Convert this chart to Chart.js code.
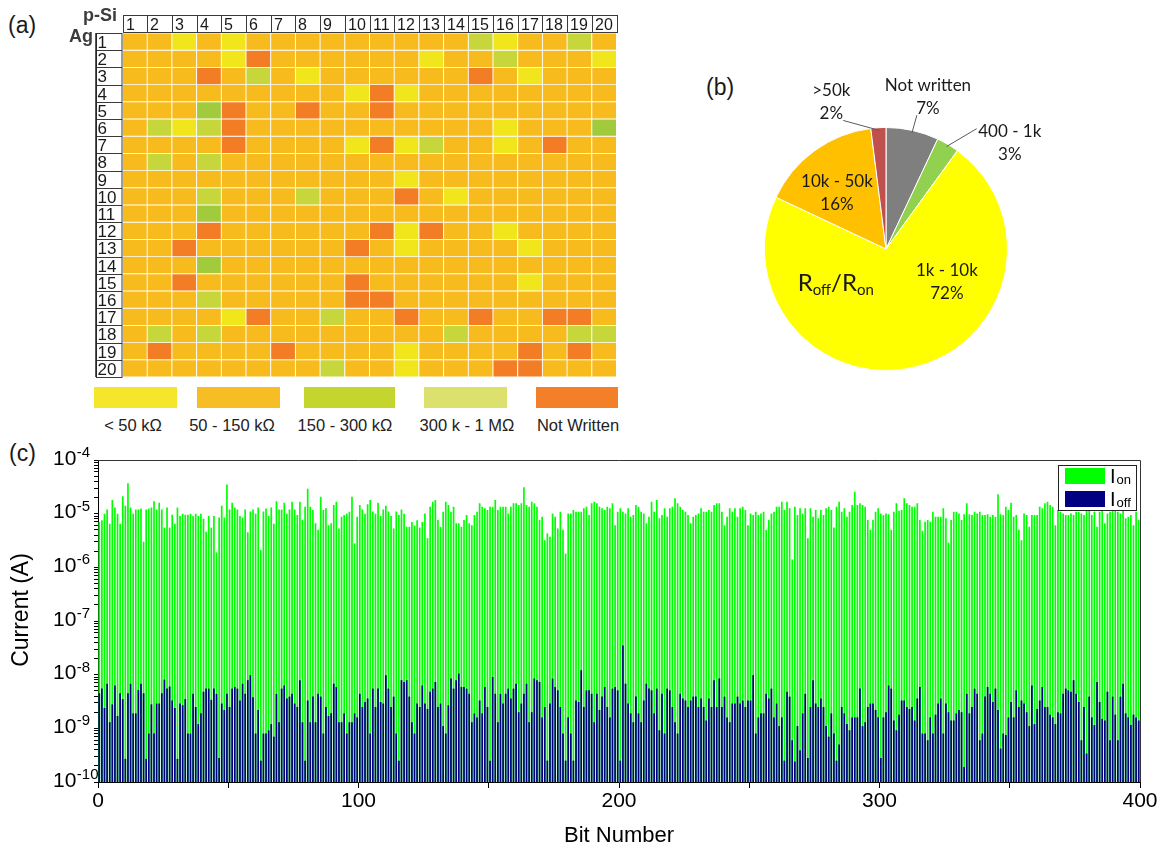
<!DOCTYPE html>
<html>
<head>
<meta charset="utf-8">
<title>Crossbar resistance map, Roff/Ron split and read currents</title>
<script src="https://cdn.jsdelivr.net/npm/chart.js@4.4.1/dist/chart.umd.min.js"></script>
<style>
  html, body { margin: 0; background: #fff; }
  #figure { position: relative; width: 1163px; height: 850px; font-family: "Liberation Sans", Arial, sans-serif; color: #1a1a1a; }
  .panel { position: absolute; }
  .tag { position: absolute; font-size: 23px; line-height: 1; }
  .swatch { position: absolute; top: 387px; height: 21px; }
  .swatch-label { position: absolute; top: 417px; font-size: 16.5px; line-height: 1; white-space: nowrap; transform: translateX(-50%); color: #222; }
</style>
</head>
<body>
<div id="figure">
  <div class="tag" style="left:8px; top:14px">(a)</div>
  <div class="panel" style="left:0; top:0; width:640px; height:385px"><canvas id="arrayMap"></canvas></div>
  <div id="mapLegend"></div>
  <div class="tag" style="left:706px; top:76px">(b)</div>
  <div class="panel" style="left:700px; top:60px; width:370px; height:360px"><canvas id="ratioPie"></canvas></div>
  <div class="tag" style="left:9px; top:442px">(c)</div>
  <div class="panel" style="left:0; top:440px; width:1163px; height:410px"><canvas id="readCurrents"></canvas></div>
</div>
<script>
// ---- (a) 20 x 20 array, one string per Ag line, one letter per p-Si line
// Y < 50k, O 50-150k, G / M greens, R not written
const pSiLabels = ['1','2','3','4','5','6','7','8','9','10','11','12','13','14','15','16','17','18','19','20'];
const agLabels = ['1','2','3','4','5','6','7','8','9','10','11','12','13','14','15','16','17','18','19','20'];
const cellStates = [
  'OOYOYOOOOOOOOOGYOOGO',
  'OOOOYROOOOOOYOOGOOOY',
  'OOOROGOYOOOOOOROYOOO',
  'OOOOOOOOOYRYOOOOOOOO',
  'OOOMROOROOROOOOOOOOO',
  'OGYGROOOOOOOOOOYOOOM',
  'OOOOROOOOYRYGOOYOROO',
  'OGOGOOOOOOOOOOOOOOOO',
  'OOOOOOOOOOOYOOOOOOOO',
  'OOOGOOOGOOOROYOOOOOO',
  'OOOMOOOOOOOOOOOOOOOO',
  'OOOROOOOOORYROOYOOOO',
  'OOROOOOOOROYOOOOYOOO',
  'OOOMOOOOOOOOOOOOOOOO',
  'OOROOOOOOROOOOOOYOOO',
  'OOOGOOOOORROOOOOOOOO',
  'OOOOYROOGOOROOROORRO',
  'OGOGOOOOOOOOOGOOOOGG',
  'OROOOOROOOOYOOOORORO',
  'OOOOOOOOGOOYOOORROOO'
];
const stateColors = { Y: '#f1e51c', O: '#f8bb1e', G: '#c6d63b', M: '#a1cb3c', R: '#f37d24' };

const mapLegendLabels = ['< 50 k\u03a9', '50 - 150 k\u03a9', '150 - 300 k\u03a9', '300 k - 1 M\u03a9', 'Not Written'];
const mapLegendColors = ['#f5e62b', '#f7bd24', '#c4d52e', '#dce06d', '#f47f29'];

// ---- (b) Roff/Ron distribution (%)
const pieLabels = ['Not written', '400 - 1k', '1k - 10k', '10k - 50k', '>50k'];
const pieShares = [7, 3, 72, 16, 2];
const pieColors = ['#7f7f7f', '#92d050', '#ffff00', '#ffc000', '#c0504d'];

// ---- (c) read currents per bit
const ionMicroamps = [
  7, 7.5, 10, 12, 6.5, 18, 13, 10, 6.5, 21, 14, 37, 13, 10, 12, 12, 12.5, 3, 12, 12.5,
  13, 17, 12, 16, 12, 5.5, 13, 5.5, 9.5, 6.5, 13, 9, 10, 9.5, 9.5, 10, 9, 10, 9, 10,
  8, 4.6, 9, 5.5, 9, 1.9, 8.5, 14, 8.5, 35, 12, 16, 13, 12, 9, 8.5, 12, 4.5, 11, 12,
  10, 13, 2.1, 11, 12.5, 9, 13, 6.5, 17, 12, 12, 16, 10, 12, 16.7, 12, 9.4, 16.7, 7.6, 13.5,
  29, 13.5, 11.7, 6.6, 5, 20.7, 11.7, 12.6, 6.1, 6.6, 14.5, 16.7, 5.3, 8.8, 9.4, 10.1, 10.9, 20.7, 2.8, 8.8,
  14.5, 12, 10, 15, 18, 11, 10, 16, 9, 12, 14, 11, 9, 5.3, 11, 9.4, 12, 10, 5.7, 5.7,
  7, 6, 7.5, 5.5, 7, 10.1, 3.5, 13.5, 16.7, 18, 7.6, 5.7, 10.9, 16.7, 14.5, 10.9, 13.5, 6.6, 6.6, 5.7,
  7.6, 9.4, 6.6, 6.1, 9.4, 10.9, 15.6, 13.5, 12.6, 11.7, 13.5, 13.5, 18, 11.7, 13.5, 13.5, 13.5, 10.1, 13.5, 15.6,
  15.6, 14.5, 15.6, 31, 14.5, 13.5, 16.7, 15.6, 13.5, 7.6, 8.8, 3.2, 4.3, 3.7, 10.1, 8.8, 5.3, 10.9, 5, 1.8,
  10.1, 10.1, 11.7, 10.9, 10.9, 10.9, 12.6, 13.5, 9.4, 15.6, 16.7, 15.6, 13.5, 12.6, 11.7, 13.5, 12.6, 15.6, 6.1, 10.9,
  12.6, 10.9, 10.1, 12.6, 8.8, 9.4, 14.5, 13.5, 10.9, 10.1, 6.6, 8.8, 16.7, 10.9, 18, 8.2, 9.4, 12.6, 8.8, 12.6,
  13.5, 19.3, 15.6, 13.5, 11.7, 10.9, 9.4, 6.6, 8.8, 9.4, 10.1, 12.6, 10.9, 10.9, 11.7, 10.9, 14.5, 15.6, 15.6, 10.9,
  6.1, 8.8, 12.6, 10.9, 12.6, 8.8, 12.6, 13.5, 11.7, 6.1, 10.1, 9.4, 10.9, 9.4, 10.1, 10.9, 5, 7.6, 10.1, 10.9,
  13.5, 13.5, 16.7, 11.7, 16.7, 12.6, 1.4, 13.5, 9.4, 12.6, 10.1, 12.6, 3.5, 12.6, 8.8, 11.7, 8.2, 11.7, 9.4, 12.6,
  13.5, 11.7, 5.5, 13.5, 16.7, 10.9, 12.6, 8.8, 10.9, 14.5, 25.7, 14.5, 15.6, 14.5, 13.5, 7.6, 5, 7.6, 10.9, 12.6,
  10.1, 9.4, 10.1, 9.8, 5, 10.9, 15.6, 11.3, 11.7, 19.3, 15.6, 14.5, 13.5, 13.5, 15.6, 7.6, 4.8, 7.1, 7.6, 7.1,
  10.9, 8.8, 8.8, 8.8, 12.6, 8.2, 2.9, 7.6, 10.9, 10.9, 10.1, 7.6, 9.8, 15.6, 9.8, 9.4, 10.9, 10.1, 10.9, 9.4,
  9.4, 9.8, 8.8, 9.4, 8.8, 23, 9.8, 9.4, 13.5, 11.7, 16, 8.8, 9.4, 5, 3.2, 10.1, 9.4, 5.7, 9.4, 9.4,
  9.4, 13.5, 12.6, 15.6, 16.7, 14.5, 13.5, 6.1, 11.7, 10.9, 10.1, 9.4, 9.4, 10.1, 9.4, 10.9, 10.9, 10.1, 9.4, 11.7,
  12.6, 9.4, 10.9, 5.7, 10.9, 13.5, 6.6, 10.1, 10.9, 11.7, 11.7, 10.9, 10.1, 13.5, 8.2, 8.8, 9.4, 6.1, 10.9, 7.6
];
const ioffNanoamps = [
  4.5, 5.5, 2.4, 6.8, 1.3, 2.8, 6.3, 1.7, 4.5, 3.5, 0.27, 4.5, 6.8, 1.9, 1.9, 5.2, 6.8, 4.5, 0.27, 0.8,
  2.8, 0.8, 2.9, 2.9, 4.5, 8.1, 5.5, 6, 3.3, 2.4, 0.27, 2.9, 2.7, 3.5, 0.8, 0.8, 4.4, 2.5, 1.2, 1.9,
  4.8, 5.5, 5.5, 3.4, 5.5, 4.4, 0.28, 2.9, 2.2, 4.4, 2.5, 5.5, 5.9, 5.5, 3.3, 6.8, 4.4, 7.9, 9.8, 3.8,
  0.8, 2.2, 0.25, 0.8, 0.8, 0.92, 1.2, 0.7, 4.4, 1.3, 5.5, 6.3, 3.6, 3.9, 4.4, 2.9, 2.5, 7.9, 1.3, 0.25,
  3.3, 1.3, 3.9, 1.3, 4.4, 3.9, 0.8, 2.5, 1.7, 1.9, 6.8, 5.9, 1.3, 1.3, 1.9, 0.8, 1.3, 1.3, 1.9, 1.6,
  4.4, 2.5, 3.1, 3.6, 0.8, 5.5, 2.5, 5.5, 3.1, 2.9, 9.8, 5.5, 2.5, 3.9, 0.8, 0.25, 7.9, 7.3, 7.9, 3.9,
  1.3, 0.8, 2.9, 2.5, 6.3, 2.9, 2.3, 4.8, 5.5, 7.3, 2.5, 2.9, 1.1, 0.8, 2.7, 8.5, 5.5, 7.9, 10.5, 5.9,
  5.9, 5.5, 4.4, 1.3, 1.9, 1.6, 3.3, 1.9, 5.9, 2.5, 0.25, 9.1, 4.4, 1.3, 4.4, 2.9, 4.4, 5.5, 3.6, 5.5,
  6.8, 2.0, 2.9, 4.4, 6.8, 1.3, 2.0, 8.5, 7.9, 7.3, 1.6, 2.5, 0.25, 2.9, 8.5, 5.9, 5.1, 2.5, 0.8, 0.25,
  1.6, 0.8, 0.25, 3.3, 3.1, 12.1, 2.5, 5.1, 5.1, 4.4, 1.3, 4.4, 2.2, 3.9, 5.9, 2.5, 1.6, 5.5, 5.9, 5.1,
  0.25, 35, 6.8, 2.9, 1.9, 1.3, 3.9, 1.9, 1.3, 3.3, 6.8, 5.5, 5.1, 1.9, 5.5, 0.92, 4.4, 0.8, 5.5, 5.1,
  2.5, 1.3, 0.8, 4.4, 3.6, 3.3, 2.5, 3.3, 3.9, 3.9, 2.5, 3.6, 2.5, 1.4, 3.6, 2.5, 7.9, 2.5, 8.5, 2.5,
  3.9, 1.6, 1.3, 2.9, 2.9, 3.9, 2.9, 3.3, 2.5, 3.3, 3.3, 9.8, 0.8, 1.6, 1.9, 1.9, 4.4, 3.6, 5.5, 1.6,
  2.9, 1.1, 1.6, 0.25, 4.8, 3.9, 0.6, 0.24, 1.1, 0.39, 1.9, 4.4, 0.28, 2.5, 7.9, 2.9, 2.5, 3.6, 2.5, 1.1,
  0.7, 1.9, 0.8, 0.25, 0.5, 2.5, 1.9, 1.2, 0.92, 1.6, 1.6, 1.6, 5.5, 1.1, 1.3, 2.5, 2.9, 2.9, 2.2, 1.6,
  0.28, 1.6, 2.0, 6.3, 5.5, 1.4, 0.92, 1.8, 3.3, 3.3, 2.5, 2.3, 2.5, 1.4, 3.6, 5.9, 0.8, 0.8, 0.6, 1.6,
  0.8, 1.8, 2.9, 3.6, 0.8, 2.9, 2.0, 1.4, 1.4, 1.9, 2.2, 2.0, 0.19, 4.4, 1.9, 2.5, 5.5, 4.4, 0.6, 0.8,
  3.9, 5.9, 4.4, 3.1, 5.5, 2.2, 0.42, 0.8, 0.75, 1.6, 3.1, 1.6, 5.1, 2.5, 3.3, 2.9, 2.0, 1.1, 6.3, 1.2,
  2.3, 3.3, 5.9, 2.5, 2.5, 1.8, 1.6, 1.2, 2.0, 1.9, 4.4, 5.5, 5.1, 4.8, 7.9, 4.4, 3.1, 0.6, 2.5, 0.34,
  3.9, 1.6, 1.15, 7.3, 3.1, 1.5, 1.4, 4.8, 0.6, 3.9, 1.8, 0.6, 3.9, 6.8, 1.9, 1.6, 1.15, 1.8, 1.6, 1.4
];
const decadeExponents = [-10, -9, -8, -7, -6, -5, -4];
const bitTicks = [0, 100, 200, 300, 400];
const seriesSubscripts = ['on', 'off'];
const seriesColors = ['#00ff00', '#000080'];

const SANS = '"Liberation Sans", Arial, sans-serif';
const PIE_FONT = 'Lato, "Open Sans", sans-serif';
Chart.defaults.font.family = SANS;
Chart.defaults.color = '#000';

// legend strip under the map
const mapLegendLeft = [94, 197, 304, 424, 536];
const mapLegendWidth = [83, 83, 91, 83, 82];
const mapLegendTextX = [133, 232, 345, 467, 578];
const legendHost = document.getElementById('mapLegend');
mapLegendLabels.forEach((text, i) => {
  const sw = document.createElement('div');
  sw.className = 'swatch';
  sw.style.left = mapLegendLeft[i] + 'px';
  sw.style.width = mapLegendWidth[i] + 'px';
  sw.style.background = mapLegendColors[i];
  legendHost.appendChild(sw);
  const lab = document.createElement('div');
  lab.className = 'swatch-label';
  lab.style.left = mapLegendTextX[i] + 'px';
  lab.textContent = text;
  legendHost.appendChild(lab);
});

// header boxes (p-Si lines) and row boxes (Ag lines) around the map
const mapFrame = {
  id: 'mapFrame',
  afterDraw(chart) {
    const { ctx, chartArea: a, scales: { x, y } } = chart;
    const cw = (a.right - a.left) / pSiLabels.length;
    ctx.save();
    ctx.lineWidth = 1;
    ctx.strokeStyle = '#3a3a3a';
    ctx.textBaseline = 'middle';
    ctx.textAlign = 'left';
    ctx.font = '16px ' + SANS;
    pSiLabels.forEach((lab, i) => {
      const left = Math.round(x.getPixelForValue(i) - cw / 2);
      ctx.fillStyle = '#fff';
      ctx.fillRect(left, 15, cw, a.top - 15);
      ctx.strokeRect(left + 0.5, 15.5, Math.round(cw), a.top - 16);
      ctx.fillStyle = '#1a1a1a';
      ctx.fillText(lab, left + 3, (15 + a.top) / 2 + 1.5);
    });
    ctx.font = '17px ' + SANS;
    agLabels.forEach((lab, r) => {
      const top = Math.round(y.getPixelForValue(r));
      const bottom = Math.round(y.getPixelForValue(r + 1));
      ctx.fillStyle = '#fff';
      ctx.fillRect(96, top, a.left - 96, bottom - top);
      ctx.strokeRect(96.5, top + 0.5, a.left - 97, bottom - top);
      ctx.fillStyle = '#1a1a1a';
      ctx.fillText(lab, 97.5, (top + bottom) / 2 + 1.5);
    });
    ctx.strokeStyle = '#222';
    ctx.lineWidth = 1.5;
    ctx.beginPath();
    ctx.moveTo(96, a.top); ctx.lineTo(96, a.bottom);
    ctx.stroke();
    ctx.fillStyle = '#3c3c3c';
    ctx.textAlign = 'center';
    ctx.font = 'bold 18px ' + SANS;
    ctx.fillText('p-Si', 100, 16);
    ctx.fillText('Ag', 81, 37);
    ctx.restore();
  }
};

new Chart(document.getElementById('arrayMap'), {
  type: 'bar',
  data: {
    labels: pSiLabels,
    datasets: cellStates.map((row, r) => ({
      label: agLabels[r],
      data: pSiLabels.map(() => 1),
      backgroundColor: row.split('').map(s => stateColors[s]),
      borderColor: '#ffffff',
      borderWidth: 0.8,
      borderSkipped: false,
      barPercentage: 1,
      categoryPercentage: 1
    }))
  },
  options: {
    responsive: true,
    maintainAspectRatio: false,
    animation: false,
    events: [],
    layout: { padding: { left: 0, top: 0, right: 23.5, bottom: 8 } },
    plugins: { legend: { display: false }, tooltip: { enabled: false } },
    scales: {
      x: {
        position: 'top',
        stacked: true,
        ticks: { display: false },
        grid: { display: false, drawTicks: false },
        border: { display: false },
        afterFit: s => { s.height = 33; }
      },
      y: {
        type: 'linear',
        stacked: true,
        reverse: true,
        min: 0,
        max: 20,
        ticks: { display: false },
        grid: { display: false, drawTicks: false },
        border: { display: false },
        afterFit: s => { s.width = 122.5; }
      }
    }
  },
  plugins: [mapFrame]
});

// ---- (b) pie with outside / inside labels
const pieLabelLayout = [
  { angle: 15.4, radius: 1.3, leader: [13, 1.13] },
  { angle: 49.5, radius: 1.34, leader: [37, 1.24] },
  { angle: 118.4, radius: 0.57 },
  { angle: -41.4, radius: 0.61 },
  { angle: -20.4, radius: 1.29, leader: [-18.4, 1.115] }
];
const ratioLabel = { angle: -124.2, radius: 0.5 };

const pieText = {
  id: 'pieText',
  afterDraw(chart) {
    const { ctx } = chart;
    const arcs = chart.getDatasetMeta(0).data;
    const cx = arcs[0].x, cy = arcs[0].y, r = arcs[0].outerRadius;
    const polar = (deg, f) => {
      const t = deg * Math.PI / 180;
      return [cx + Math.sin(t) * r * f, cy - Math.cos(t) * r * f];
    };
    ctx.save();
    ctx.strokeStyle = '#5a5a5a';
    ctx.lineWidth = 1;
    ctx.fillStyle = '#1a1a1a';
    ctx.textAlign = 'center';
    ctx.textBaseline = 'middle';
    ctx.font = '17px ' + PIE_FONT;
    pieLabelLayout.forEach((lay, i) => {
      const arc = arcs[i];
      if (lay.leader) {
        const mid = (arc.startAngle + arc.endAngle) / 2;
        const [ex, ey] = polar(lay.leader[0], lay.leader[1]);
        ctx.beginPath();
        ctx.moveTo(cx + Math.cos(mid) * r * 0.98, cy + Math.sin(mid) * r * 0.98);
        ctx.lineTo(ex, ey);
        ctx.stroke();
      }
      const [tx, ty] = polar(lay.angle, lay.radius);
      ctx.fillText(pieLabels[i], tx, ty - 11.5);
      ctx.fillText(pieShares[i] + '%', tx, ty + 11.5);
    });

    // R_off / R_on with subscripts
    const parts = [['R', 24, 0], ['off', 15, 4], ['/', 24, 0], ['R', 24, 0], ['on', 15, 4]];
    let total = 0;
    parts.forEach(p => { ctx.font = p[1] + 'px ' + PIE_FONT; total += ctx.measureText(p[0]).width; });
    const [rx, ry] = polar(ratioLabel.angle, ratioLabel.radius);
    let px = rx - total / 2;
    ctx.textAlign = 'left';
    ctx.textBaseline = 'alphabetic';
    parts.forEach(p => {
      ctx.font = p[1] + 'px ' + PIE_FONT;
      ctx.fillText(p[0], px, ry + 8 + p[2]);
      px += ctx.measureText(p[0]).width;
    });
    ctx.restore();
  }
};

new Chart(document.getElementById('ratioPie'), {
  type: 'pie',
  data: {
    labels: pieLabels,
    datasets: [{
      data: pieShares,
      backgroundColor: pieColors,
      borderColor: '#ffffff',
      borderWidth: 1
    }]
  },
  options: {
    responsive: true,
    maintainAspectRatio: false,
    animation: false,
    events: [],
    layout: { padding: { left: 64, top: 67, right: 62, bottom: 49 } },
    plugins: { legend: { display: false }, tooltip: { enabled: false } }
  },
  plugins: [pieText]
});

// ---- (c) Ion / Ioff bars on a log axis
const currentDecor = {
  id: 'currentDecor',
  afterDraw(chart) {
    const { ctx, chartArea: a, scales: { y } } = chart;
    ctx.save();
    ctx.strokeStyle = '#333';
    ctx.lineWidth = 1;
    ctx.beginPath();
    ctx.moveTo(a.left, a.top + 0.5);
    ctx.lineTo(a.right + 0.5, a.top + 0.5);
    ctx.lineTo(a.right + 0.5, a.bottom);
    ctx.stroke();

    ctx.fillStyle = '#000';
    ctx.textAlign = 'left';
    ctx.textBaseline = 'middle';
    decadeExponents.forEach(e => {
      const py = y.getPixelForValue(Math.pow(10, e));
      ctx.font = '21px ' + SANS;
      ctx.fillText('10', a.left - 45, py - 1);
      const w = ctx.measureText('10').width;
      ctx.font = '15px ' + SANS;
      ctx.fillText(String(e), a.left - 45 + w + 0.5, py - 7);
    });

    ctx.textAlign = 'center';
    ctx.font = '22px ' + SANS;
    ctx.fillText('Bit Number', (a.left + a.right) / 2, 396);
    ctx.save();
    ctx.translate(22, (a.top + a.bottom) / 2 - 11);
    ctx.rotate(-Math.PI / 2);
    ctx.font = '23px ' + SANS;
    ctx.fillText('Current (A)', 0, 0);
    ctx.restore();

    // legend box
    const lw = 78, lh = 45;
    const lx = a.right - 82, ly = a.top + 5;
    ctx.fillStyle = '#fff';
    ctx.fillRect(lx, ly, lw, lh);
    ctx.strokeStyle = '#222';
    ctx.strokeRect(lx + 0.5, ly + 0.5, lw, lh);
    ctx.textAlign = 'left';
    ctx.textBaseline = 'alphabetic';
    seriesSubscripts.forEach((sub, i) => {
      const sy = ly + 3 + i * 23;
      ctx.fillStyle = seriesColors[i];
      ctx.fillRect(lx + 7, sy, 40, 16);
      ctx.fillStyle = '#000';
      ctx.font = '20px ' + SANS;
      ctx.fillText('I', lx + 52, sy + 15);
      const wI = ctx.measureText('I').width;
      ctx.font = '13px ' + SANS;
      ctx.fillText(sub, lx + 53 + wI, sy + 15.5);
    });
    ctx.restore();
  }
};

new Chart(document.getElementById('readCurrents'), {
  type: 'bar',
  data: {
    labels: ionMicroamps.map((_, i) => i),
    datasets: [
      {
        label: 'Ioff',
        data: ioffNanoamps.map(v => v * 1e-9),
        backgroundColor: seriesColors[1],
        grouped: false,
        order: 0,
        barPercentage: 0.65,
        categoryPercentage: 1,
        xAxisID: 'x',
        yAxisID: 'y'
      },
      {
        label: 'Ion',
        data: ionMicroamps.map(v => v * 1e-6),
        backgroundColor: seriesColors[0],
        grouped: false,
        order: 1,
        barPercentage: 0.65,
        categoryPercentage: 1,
        xAxisID: 'x',
        yAxisID: 'y'
      }
    ]
  },
  options: {
    responsive: true,
    maintainAspectRatio: false,
    animation: false,
    events: [],
    layout: { padding: { left: 0, right: 23, top: 20, bottom: 0 } },
    plugins: { legend: { display: false }, tooltip: { enabled: false } },
    scales: {
      x: { type: 'category', display: false },
      bits: {
        type: 'linear',
        position: 'bottom',
        offset: false,
        min: 0,
        max: 400,
        afterBuildTicks: axis => {
          axis.ticks = [];
          for (let v = 0; v <= 400; v += 50) axis.ticks.push({ value: v });
        },
        ticks: {
          autoSkip: false,
          maxRotation: 0,
          padding: 1,
          font: { size: 21 },
          callback: v => (bitTicks.includes(v) ? String(v) : '')
        },
        grid: { offset: false, drawOnChartArea: false, tickLength: 6, color: '#000' },
        border: { color: '#000' },
        afterFit: s => { s.height = 68; }
      },
      y: {
        type: 'logarithmic',
        min: 1e-10,
        max: 1e-4,
        afterBuildTicks: axis => {
          axis.ticks = [];
          decadeExponents.forEach(e => {
            const reps = e === -4 ? 1 : 9;
            for (let m = 1; m <= reps; m++) axis.ticks.push({ value: m * Math.pow(10, e), major: m === 1 });
          });
        },
        ticks: { autoSkip: false, callback: () => '' },
        grid: { drawOnChartArea: false, tickLength: 4, color: '#000' },
        border: { color: '#000' },
        afterFit: s => { s.width = 98; }
      }
    }
  },
  plugins: [currentDecor]
});
</script>
</body>
</html>
